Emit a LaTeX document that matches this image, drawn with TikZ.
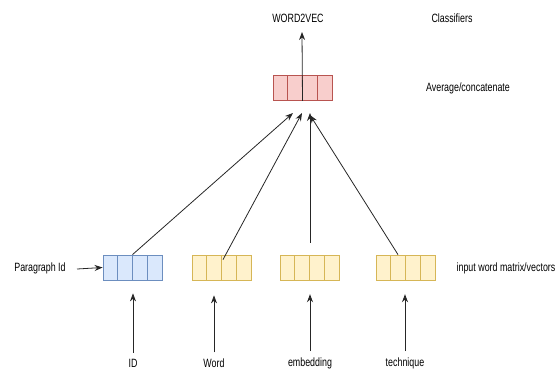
\documentclass[tikz,border=0pt]{standalone}
\usepackage{fontspec}
\setmainfont{Liberation Sans}
\usetikzlibrary{arrows.meta,calc}
\definecolor{bluefill}{HTML}{DAE8FC}\definecolor{bluedraw}{HTML}{6C8EBF}
\definecolor{yelfill}{HTML}{FFF2CC}\definecolor{yeldraw}{HTML}{D6B656}
\definecolor{redfill}{HTML}{F8CECC}\definecolor{reddraw}{HTML}{B85450}
\tikzset{
  vecbox/.style={draw=#1draw, fill=#1fill, line width=0.8pt, minimum width=59pt, minimum height=25pt, inner sep=0pt,
    path picture={\foreach \i in {1,2,3}{\draw[#1draw, line width=0.8pt]
      ($(path picture bounding box.south west)!\i/4!(path picture bounding box.south east)$) -- ++(0,30pt);}}},
  lbl/.style={font=\fontsize{12}{14}\selectfont, inner sep=1pt, xscale=0.74, transform shape},
  arr/.style={-{Stealth[length=8pt,width=6pt]}, line width=0.8pt, draw=black!85}
}
\begin{document}
\begin{tikzpicture}[x=1pt,y=-1pt]
\useasboundingbox (0,0) rectangle (558,370);
% boxes
\node[vecbox=red] (avg) at (302.5,88) {};
\node[vecbox=blue] (pid) at (132.5,267.5) {};
\node[vecbox=yel] (vw) at (221.5,267.5) {};
\node[vecbox=yel] (ve) at (309.5,267.5) {};
\node[vecbox=yel] (vt) at (405.5,267.5) {};
% labels
\node[lbl] (w2v) at (298,18) {WORD2VEC};
\node[lbl] (cls) at (452,18) {Classifiers};
\node[lbl] (avgl) at (468,88) {Average/concatenate};
\node[lbl] (pidl) at (40,268) {Paragraph Id};
\node[lbl] (inl) at (506,268) {input word matrix/vectors};
\node[lbl] (idl) at (133,363) {ID};
\node[lbl] (wl) at (214,363) {Word};
\node[lbl] (el) at (310,363) {embedding};
\node[lbl] (tl) at (405,363) {technique};
% coordinates
\coordinate (a0) at ($(avg.south)+(0,0)$);
\coordinate (t0) at (302,32);
\coordinate (tip1) at (293,113);
\coordinate (tip2) at (302,113);
\coordinate (tip3) at (310,113);
\coordinate (tip4) at (310,115);
\coordinate (s2) at ($(vw.north)+(1.5,5)$);
\coordinate (s3) at ($(ve.north)+(0.5,-12)$);
\coordinate (s4) at ($(vt.north)+(-7.5,0)$);
% connectors
\draw[arr] (a0) -- (t0);
\draw[arr] (pid.north) -- (tip1);
\draw[arr] (s2) -- (tip2);
\draw[arr] (s3) -- (tip3);
\draw[arr] (s4) -- (tip4);
\draw[arr] (77,269) coordinate (p0) -- (pid.west);
\draw[arr] ($(idl.north)+(0,-5)$) -- ($(pid.south)+(0.5,13)$);
\draw[arr] ($(wl.north)+(0,-5)$) -- ($(wl.north)+(0,-62)$);
\draw[arr] ($(el.north)+(0,-5)$) -- ($(el.north)+(0,-62)$);
\draw[arr] ($(tl.north)+(0,-5)$) -- ($(tl.north)+(0,-62)$);
\end{tikzpicture}
\end{document}
